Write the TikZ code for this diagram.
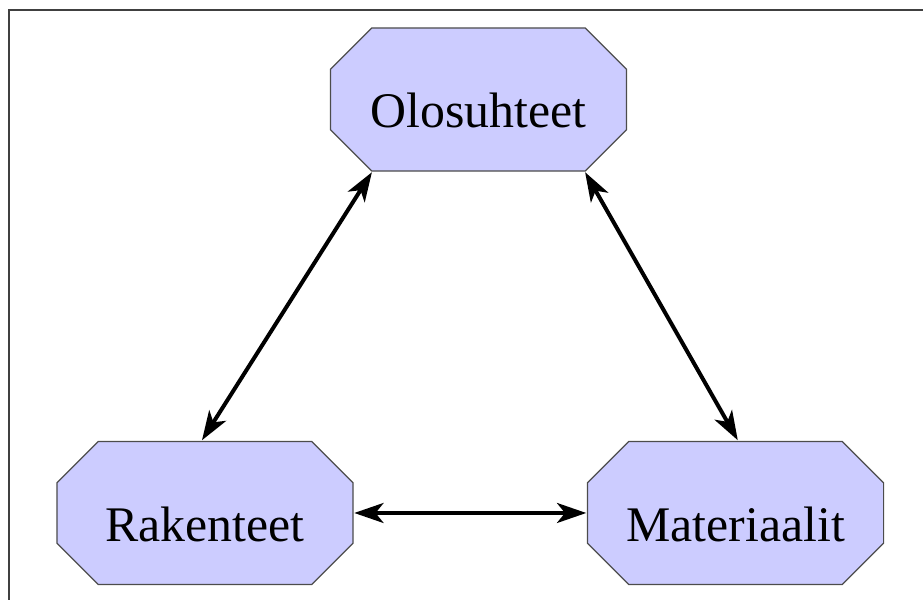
\documentclass[tikz,border=0pt]{standalone}
\usepackage{fontspec}
\setmainfont{Liberation Serif}
\usepackage{tikz}
\usetikzlibrary{shapes,arrows,arrows.meta}
\definecolor{octfill}{HTML}{CCCCFF}
\newcommand{\ppb}{path picture bounding box}
\tikzstyle{octo} = [rectangle, minimum width=3.935cm, minimum height=1.91cm, inner sep=0pt, text height=21.4pt, text depth=0pt, font=\fontsize{18.75}{22}\selectfont,
   path picture={\draw [draw=black!70, fill=octfill, line width=0.45pt]
      ([shift={(0.556cm,-0.25pt)}]\ppb.north west) -- ([shift={(-0.556cm,-0.25pt)}]\ppb.north east)
      -- ([shift={(-0.25pt,-0.556cm)}]\ppb.north east) -- ([shift={(-0.25pt,0.556cm)}]\ppb.south east)
      -- ([shift={(-0.556cm,0.25pt)}]\ppb.south east) -- ([shift={(0.556cm,0.25pt)}]\ppb.south west)
      -- ([shift={(0.25pt,0.556cm)}]\ppb.south west) -- ([shift={(0.25pt,-0.556cm)}]\ppb.north west) -- cycle;}]
\tikzstyle{link} = [line width=1.5pt, {Stealth[length=11pt,width=7.5pt,inset=3pt]}-{Stealth[length=11pt,width=7.5pt,inset=3pt]}]
\tikzstyle{frame} = [draw=black!75, line width=0.75pt]

\begin{document}
\begin{tikzpicture}[auto, node distance=7.018cm]
\useasboundingbox (0,0) rectangle (12.21,7.924);
\draw [frame] (0.113,-0.2) rectangle (12.4,7.792);
% Nodes
	\node [octo] (Olosuhteet) at (6.330,6.608) {Olosuhteet};
	\node [octo] (Rakenteet) at (2.712,1.138) {Rakenteet};
	\node [octo, right of=Rakenteet] (Materiaalit) {Materiaalit};
% Connections
	\draw [link] ([xshift=-1.41cm]Olosuhteet.south) -- ([xshift=-0.04cm]Rakenteet.north);
	\draw [link] ([xshift=1.41cm]Olosuhteet.south) -- ([xshift=0.03cm]Materiaalit.north);
	\draw [link] (Rakenteet.east) -- (Materiaalit.west);
\end{tikzpicture}
\end{document}
